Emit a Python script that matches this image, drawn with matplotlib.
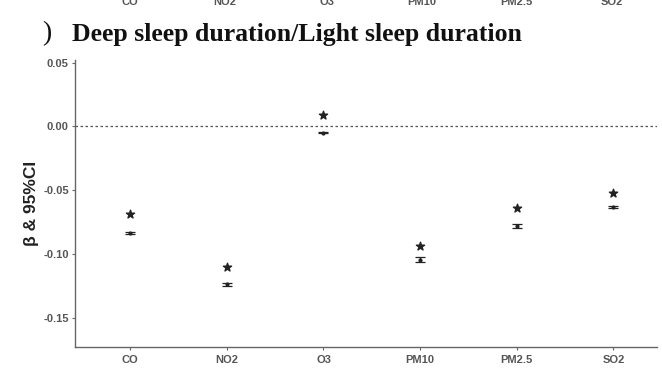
import numpy as np
import matplotlib.pyplot as plt

# pollutant estimates
pollutants = ['CO', 'NO2', 'O3', 'PM10', 'PM2.5', 'SO2']
beta = [-0.0835, -0.124, -0.005, -0.1045, -0.078, -0.0635]
ci_half = [0.0010, 0.0015, 0.0004, 0.0020, 0.0015, 0.0008]
star_y = [-0.069, -0.110, 0.009, -0.094, -0.064, -0.052]
yticks = [0.05, 0.00, -0.05, -0.10, -0.15]

tick_grey = '#555555'
axis_grey = '#666666'

fig = plt.figure(figsize=(6.62, 3.77), dpi=100)
ax = fig.add_axes([75 / 662, 30 / 377, 582 / 662, 287 / 377])

x = np.arange(1, len(pollutants) + 1)

# reference line at zero
ax.axhline(0, color='#555555', linestyle=(0, (2, 2)), linewidth=0.9, zorder=1)

# estimates with 95% CI
ax.errorbar(x, beta, yerr=ci_half, fmt='o', color='#222222', markersize=2,
            capsize=3.5, elinewidth=0.9, capthick=0.9, zorder=3)

# significance stars
ax.scatter(x, star_y, marker='*', s=38, color='#222222', zorder=3)

ax.set_xlim(0.43, 6.45)
ax.set_ylim(-0.173, 0.052)
ax.set_xticks(x)
ax.set_xticklabels(pollutants)
ax.set_yticks(yticks)
ax.set_yticklabels([f'{v:.2f}' for v in yticks])

for lbl in ax.get_xticklabels() + ax.get_yticklabels():
    lbl.set_fontfamily('Liberation Sans')
    lbl.set_fontweight('bold')
    lbl.set_fontsize(8)
    lbl.set_color(tick_grey)

ax.tick_params(axis='both', length=2.5, width=0.8, color=axis_grey, pad=2)
ax.tick_params(axis='x', pad=3)

for side in ['top', 'right']:
    ax.spines[side].set_visible(False)
for side in ['left', 'bottom']:
    ax.spines[side].set_color(axis_grey)
    ax.spines[side].set_linewidth(1.0)

ax.set_ylabel('β & 95%CI', fontfamily='Liberation Sans', fontweight='bold',
              fontsize=12.5, color='#222222', labelpad=3)

# panel title
fig.text(72 / 662, 1 - 35 / 377, 'Deep sleep duration/Light sleep duration',
         fontfamily='Liberation Serif', fontweight='bold', fontsize=18.5,
         ha='left', va='center', color='#111111')
fig.text(42 / 662, 1 - 34 / 377, ')', fontfamily='Liberation Serif',
         fontsize=20, ha='left', va='center', color='#111111')

# cropped tick labels of the panel above
top_x = [130, 225, 327, 422, 516, 612]
for px, name in zip(top_x, pollutants):
    fig.text(px / 662, 1 - 2 / 377, name, fontfamily='Liberation Sans',
             fontweight='bold', fontsize=8, color=tick_grey,
             ha='center', va='center')

fig.savefig('out.png', dpi=100)
